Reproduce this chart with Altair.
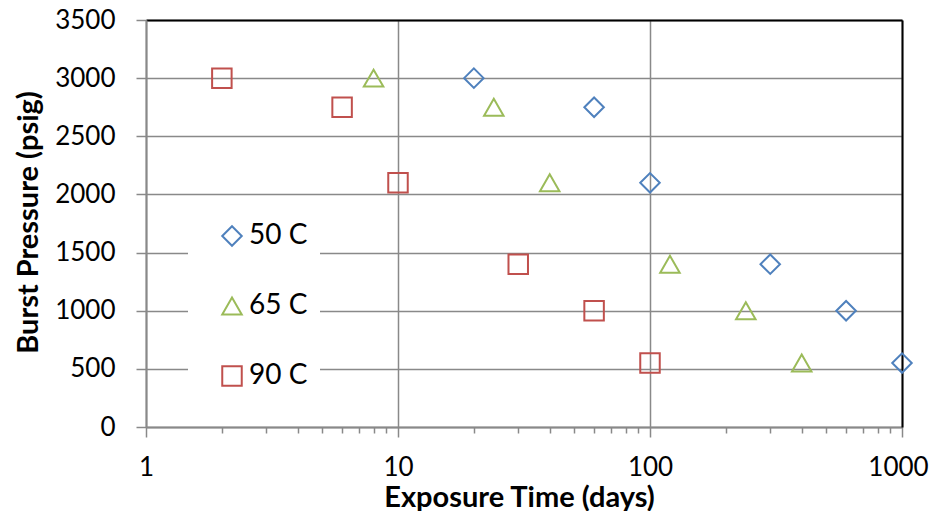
import altair as alt
import pandas as pd

series = ["50 C", "65 C", "90 C"]
t50 = [20, 60, 100, 300, 600, 1000]
p50 = [3000, 2750, 2100, 1400, 1000, 550]
t65 = [8, 24, 40, 120, 240, 400]
p65 = [3000, 2750, 2100, 1400, 1000, 550]
t90 = [2, 6, 10, 30, 60, 100]
p90 = [3000, 2750, 2100, 1400, 1000, 550]

x_ticks = [1, 2, 3, 4, 5, 6, 7, 8, 9,
           10, 20, 30, 40, 50, 60, 70, 80, 90,
           100, 200, 300, 400, 500, 600, 700, 800, 900, 1000]
decades = [1, 10, 100, 1000]
y_ticks = [0, 500, 1000, 1500, 2000, 2500, 3000, 3500]

colors = ["#4F81BD", "#9BBB59", "#C0504D"]
shapes = ["diamond", "triangle-up", "square"]

rows = []
for name, ts, ps in zip(series, [t50, t65, t90], [p50, p65, p90]):
    for t, p in zip(ts, ps):
        rows.append({"series": name, "t": t, "p": p})
df = pd.DataFrame(rows)

FONT = "Lato"
GRID = "#898989"
dec_test = "indexof(" + str(decades) + ", datum.value) >= 0"

x_scale = alt.Scale(type="log", domain=[1, 1000], nice=False)
y_scale = alt.Scale(domain=[0, 3500], nice=False)

legend = alt.Legend(
    title=None, orient="none", legendX=42, legendY=190,
    fillColor="white", padding=12, symbolOffset=18,
    labelFont=FONT, labelFontSize=28, labelColor="black", labelOffset=3,
    symbolSize=380, symbolStrokeWidth=2, rowPadding=42,
)

points = alt.Chart(df).mark_point(filled=False, size=380, strokeWidth=2, opacity=1).encode(
    x=alt.X("t:Q", scale=x_scale, axis=alt.Axis(
        title="Exposure Time (days)", values=x_ticks, format="d",
        labelExpr=dec_test + " ? datum.label : ''",
        labelOverlap=False, labelFont=FONT, labelFontSize=26, labelColor="black",
        labelPadding=17, labelFlush=False,
        labelOffset={"condition": {"test": "datum.value == 1000", "value": -4}, "value": 0},
        tickSize={"condition": {"test": dec_test, "value": 10}, "value": 6},
        tickColor=GRID, tickWidth=1.5,
        domainColor=GRID, domainWidth=2,
        grid=True, gridColor=GRID, gridWidth=1.5,
        gridOpacity={"condition": {"test": dec_test, "value": 1}, "value": 0},
        titleFont=FONT, titleFontSize=29, titleFontWeight="bold", titleColor="black",
        titleX=373, titleY=79, titleBaseline="alphabetic",
    )),
    y=alt.Y("p:Q", scale=y_scale, axis=alt.Axis(
        title="Burst Pressure (psig)", values=y_ticks, format="d",
        labelFont=FONT, labelFontSize=26, labelColor="black", labelPadding=21,
        tickSize=10, tickColor=GRID, tickWidth=1.5,
        domainColor=GRID, domainWidth=2,
        grid=True, gridColor=GRID, gridWidth=1.5,
        titleFont=FONT, titleFontSize=29, titleFontWeight="bold", titleColor="black",
        titlePadding=11, titleY=202,
    )),
    color=alt.Color("series:N", scale=alt.Scale(domain=series, range=colors), legend=legend),
    shape=alt.Shape("series:N", scale=alt.Scale(domain=series, range=shapes), legend=legend),
)

border = alt.Chart(df).mark_point(opacity=0).encode(
    x=alt.X("t:Q", scale=x_scale, axis=alt.Axis(
        orient="top", title=None, labels=False, ticks=False, grid=False,
        domainColor="black", domainWidth=2)),
    y=alt.Y("p:Q", scale=y_scale, axis=alt.Axis(
        orient="right", title=None, labels=False, ticks=False, grid=False,
        domainColor="black", domainWidth=2)),
)

chart = alt.layer(points, border).resolve_axis(x="independent", y="independent").properties(
    width=756, height=407,
    autosize=alt.AutoSizeParams(type="none"),
    padding={"left": 138, "top": 12, "right": 27, "bottom": 84},
    background="white",
).configure_view(stroke=None)

chart.save("out.html", embed_options={"renderer": "svg", "actions": False})
